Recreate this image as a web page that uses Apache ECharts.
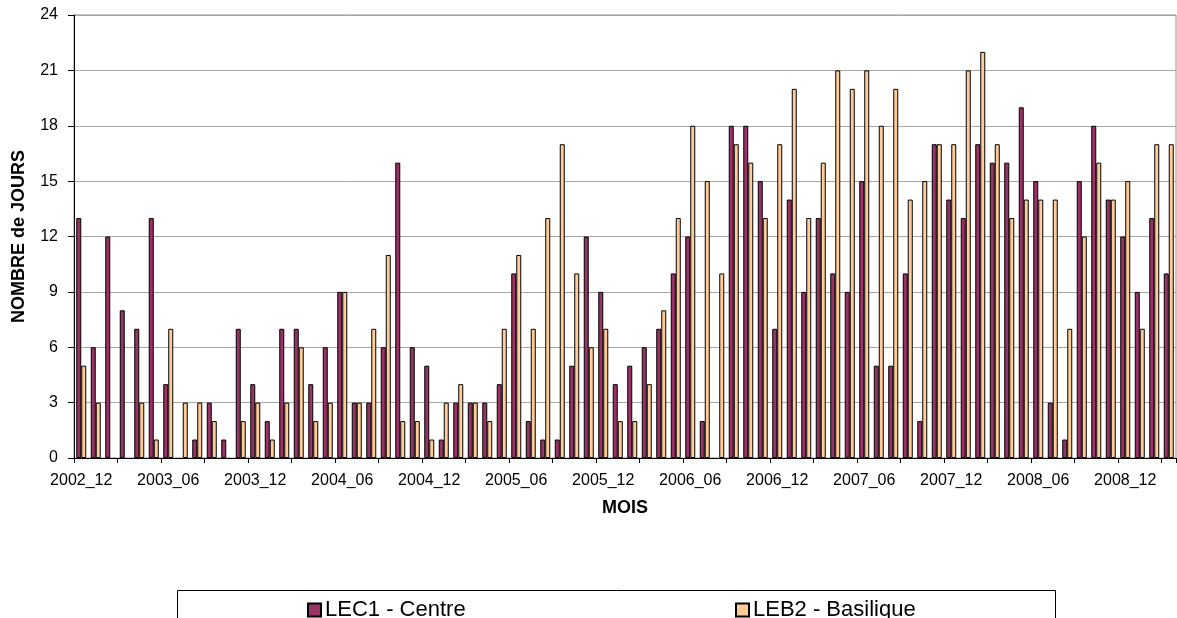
<!DOCTYPE html>
<html>
<head>
<meta charset="utf-8">
<script src="https://cdn.jsdelivr.net/npm/echarts@6/dist/echarts.min.js"></script>
<style>
html,body{margin:0;padding:0;background:#fff;}
#c{width:1177px;height:618px;}
</style>
</head>
<body>
<div id="c"></div>
<script>
var months = [
 "2002_12",
 "2003_01","2003_02","2003_03","2003_04","2003_05","2003_06","2003_07","2003_08","2003_09","2003_10","2003_11","2003_12",
 "2004_01","2004_02","2004_03","2004_04","2004_05","2004_06","2004_07","2004_08","2004_09","2004_10","2004_11","2004_12",
 "2005_01","2005_02","2005_03","2005_04","2005_05","2005_06","2005_07","2005_08","2005_09","2005_10","2005_11","2005_12",
 "2006_01","2006_02","2006_03","2006_04","2006_05","2006_06","2006_07","2006_08","2006_09","2006_10","2006_11","2006_12",
 "2007_01","2007_02","2007_03","2007_04","2007_05","2007_06","2007_07","2007_08","2007_09","2007_10","2007_11","2007_12",
 "2008_01","2008_02","2008_03","2008_04","2008_05","2008_06","2008_07","2008_08","2008_09","2008_10","2008_11","2008_12",
 "2009_01","2009_02","2009_03"
];
var lec1 = [13,6,12,8,7,13,4,0,1,3,1,7,4,2,7,7,4,6,9,3,3,6,16,6,5,1,3,3,3,4,10,2,1,1,5,12,9,4,5,6,7,10,12,2,0,18,18,15,7,14,9,13,10,9,15,5,5,10,2,17,14,13,17,16,16,19,15,3,1,15,18,14,12,9,13,10];
var leb2 = [5,3,0,0,3,1,7,3,3,2,0,2,3,1,3,6,2,3,9,3,7,11,2,2,1,3,4,3,2,7,11,7,13,17,10,6,7,2,2,4,8,13,18,15,10,17,16,13,17,20,13,16,21,20,21,18,20,14,15,17,17,21,22,17,13,14,14,14,7,12,16,14,15,7,17,17];
var yTicks = {min:0, max:24, step:3};

function noZero(arr){ return arr.map(function(v){ return v === 0 ? null : v; }); }

var FONT = '"Liberation Sans", Arial, sans-serif';
var chart = echarts.init(document.getElementById('c'), null, {renderer:'canvas'});
chart.setOption({
  animation:false,
  backgroundColor:'#fff',
  grid:{left:74, right:1, top:15, bottom:160, show:true, borderColor:'#8c8c8c', borderWidth:1, backgroundColor:'transparent', containLabel:false},
  xAxis:{
    type:'category', data:months, boundaryGap:true,
    axisLine:{lineStyle:{color:'#000', width:1}},
    axisTick:{show:true, interval:2, length:5, lineStyle:{color:'#000'}},
    axisLabel:{interval:5, color:'#000', fontFamily:FONT, fontSize:16, margin:15},
    name:'MOIS', nameLocation:'middle', nameGap:41,
    nameTextStyle:{fontFamily:FONT, fontWeight:'bold', fontSize:18, color:'#000'}
  },
  yAxis:{
    type:'value', min:yTicks.min, max:yTicks.max, interval:yTicks.step,
    axisLine:{show:true, lineStyle:{color:'#000', width:1}},
    axisTick:{show:true, length:6, lineStyle:{color:'#000'}},
    axisLabel:{color:'#000', fontFamily:FONT, fontSize:16, margin:16},
    splitLine:{show:true, lineStyle:{color:'#a6a6a6', width:1}},
    name:'NOMBRE de JOURS', nameLocation:'middle', nameGap:46, nameRotate:90,
    nameTextStyle:{fontFamily:FONT, fontWeight:'bold', fontSize:18, color:'#000'}
  },
  legend:[
    {data:['LEC1 - Centre'], left:307, top:599, itemWidth:13, itemHeight:13, itemGap:0,
     icon:'rect', textStyle:{fontFamily:FONT, fontSize:22, color:'#000', padding:[0,0,0,-1]}, padding:0},
    {data:['LEB2 - Basilique'], left:735, top:599, itemWidth:13, itemHeight:13, itemGap:0,
     icon:'rect', textStyle:{fontFamily:FONT, fontSize:22, color:'#000', padding:[0,0,0,-1]}, padding:0}
  ],
  graphic:[
    {type:'rect', shape:{x:177.5, y:590.5, width:878, height:60}, style:{fill:'none', stroke:'#000', lineWidth:1}, z:-1}
  ],
  series:[
    {name:'LEC1 - Centre', type:'bar', data:noZero(lec1), barWidth:5, barGap:'0%',
     itemStyle:{color:'#993366', borderColor:'#000', borderWidth:1}},
    {name:'LEB2 - Basilique', type:'bar', data:noZero(leb2), barWidth:5, barGap:'0%',
     itemStyle:{color:'#FFCC99', borderColor:'#000', borderWidth:1}}
  ]
});
</script>
</body>
</html>
